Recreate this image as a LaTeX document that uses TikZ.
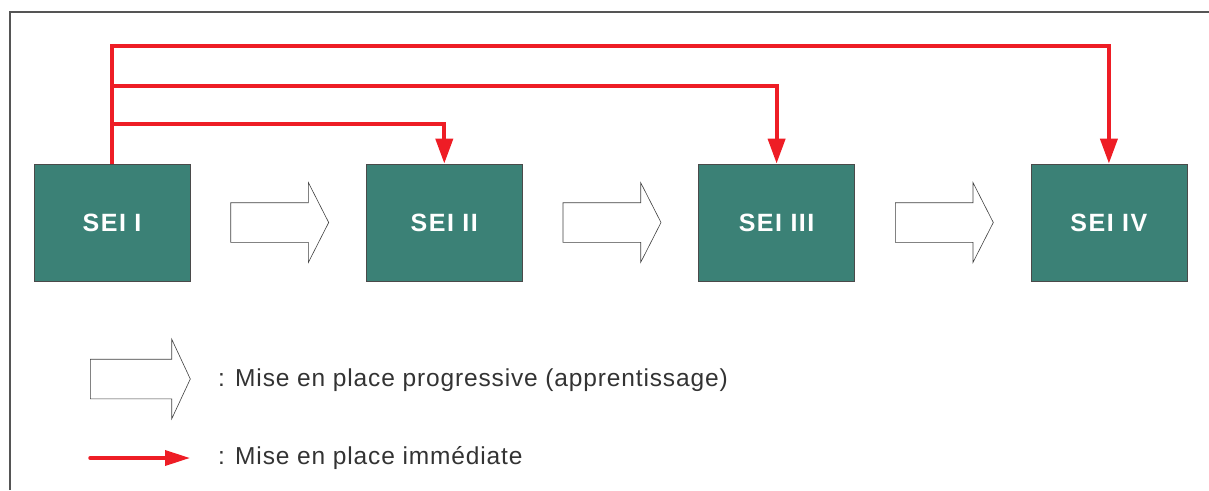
\documentclass[tikz,border=0pt]{standalone}
\usepackage{fontspec}
\setsansfont{Liberation Sans}
\newfontfamily\seifont{Liberation Sans}[LetterSpace=6]
\newfontfamily\legfont{Liberation Sans}[LetterSpace=3.5]
\usetikzlibrary{positioning,arrows.meta,calc,shapes.arrows}
\definecolor{seiTeal}{HTML}{3B8176}
\definecolor{seiEdge}{HTML}{4A4A4A}
\definecolor{linkRed}{HTML}{EE1D25}
\definecolor{frameGray}{HTML}{555555}
\definecolor{legText}{HTML}{333333}

\begin{document}
\begin{tikzpicture}[
  x=1pt, y=-1pt,
  font=\sffamily,
  %% Node styles
  sei/.style={
    rectangle, draw=seiEdge, fill=seiTeal, line width=0.8pt,
    minimum width=156pt, minimum height=117pt, inner sep=0pt,
    text=white, font=\seifont\bfseries\fontsize{25}{28}\selectfont
  },
  hollow/.style={
    single arrow, draw=black!75, fill=white, line width=0.6pt,
    minimum height=98pt, inner sep=0pt, inner ysep=19.5pt,
    single arrow head extend=20pt, single arrow tip angle=126,
    anchor=tail
  },
  legtext/.style={
    anchor=west, inner sep=0pt, text=legText,
    font=\legfont\fontsize{24.5}{28}\selectfont
  },
  %% Arrow styles
  redarrow/.style={-{Triangle[length=25pt,width=17pt]}, line width=4pt,
                   color=linkRed},
]
\useasboundingbox (0,0) rectangle (1209,490);

%% ── Frame ──────────────────────────────────────────────────────────────────
\draw[frameGray, line width=1.5pt] (10,490) -- (10,12) -- (1209,12);

%% ── SEI boxes ──────────────────────────────────────────────────────────────
\node[sei] (s1) at (112,222.5) {SEI I};
\node[sei, right=175.5pt of s1] (s2) {SEI II};
\node[sei, right=175.5pt of s2] (s3) {SEI III};
\node[sei, right=175.5pt of s3] (s4) {SEI IV};

%% ── Progressive arrows between boxes ───────────────────────────────────────
\node[hollow] (p12) at ($(s1.east)+(40,0)$) {};
\node[hollow] (p23) at ($(s2.east)+(40,0)$) {};
\node[hollow] (p34) at ($(s3.east)+(40,0)$) {};

%% ── Immediate arrows from SEI I ────────────────────────────────────────────
\coordinate (t2) at ($(s2.north)+(0,-40)$);
\coordinate (t3) at ($(s3.north)+(0,-78)$);
\coordinate (t4) at ($(s4.north)+(0,-118)$);
\draw[redarrow] (s1.north) |- (t4) -- (s4.north);
\draw[redarrow] (s1.north) |- (t3) -- (s3.north);
\draw[redarrow] (s1.north) |- (t2) -- (s2.north);

%% ── Legend ─────────────────────────────────────────────────────────────────
\node[hollow, minimum height=100pt, single arrow tip angle=130] (lhollow) at (90,379) {};
\node[legtext] (lprog) at (218,380) {: Mise en place progressive (apprentissage)};

\coordinate (lred0) at (90,458);
\coordinate (lred1) at (190,458);
\draw[redarrow, line width=3.5pt, line cap=round,
      -{Triangle[length=25pt,width=15pt]}] (lred0) -- (lred1);
\node[legtext] (limm) at (218,458) {: Mise en place immédiate};

\end{tikzpicture}
\end{document}
